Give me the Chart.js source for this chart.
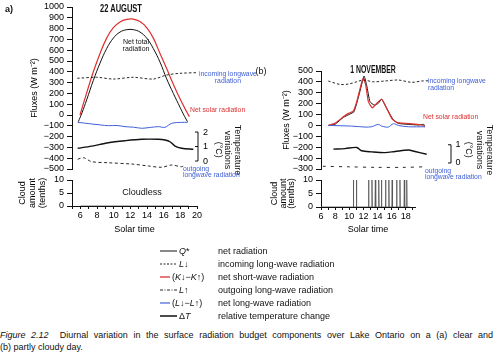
<!DOCTYPE html>
<html><head><meta charset="utf-8">
<script src="https://cdn.jsdelivr.net/npm/chart.js@4.4.1/dist/chart.umd.min.js"></script>
<style>
html,body{margin:0;padding:0;background:#fff;}
#wrap{position:relative;width:499px;height:356px;overflow:hidden;font-family:'Liberation Sans',Arial,Helvetica,sans-serif;color:#111;}
canvas{position:absolute;}
.t{position:absolute;white-space:nowrap;line-height:1;}
.vt{position:absolute;writing-mode:vertical-rl;text-align:center;white-space:nowrap;transform:translate(-50%,-50%);}
</style></head><body><div id="wrap">
<canvas id="fa" width="250" height="176" style="left:0;top:0"></canvas>
<canvas id="ca" width="250" height="70" style="left:0;top:170px"></canvas>
<canvas id="fb" width="249" height="116" style="left:250px;top:60px"></canvas>
<canvas id="cb" width="249" height="70" style="left:250px;top:170px"></canvas>
</div>
<script>
// ===== Panel (a): 22 August =====
const hoursNetTotalA = [5.76, 6.2, 6.76, 7.56, 8.36, 9.16, 9.96, 10.76, 11.56, 12.36, 13.16, 13.96, 14.76, 15.56, 16.36, 17.16, 17.96, 18.5, 18.86];
const netTotalA      = [-62, 20, 140, 320, 480, 615, 712, 768, 790, 790, 768, 712, 615, 490, 335, 200, 72, -12, -62];
const hoursNetSolarA = [5.96, 6.76, 7.56, 8.36, 9.16, 9.96, 10.76, 11.56, 12.36, 13.16, 13.96, 14.76, 15.56, 16.36, 17.16, 17.96, 18.76, 19.08];
const netSolarA      = [0, 205, 400, 570, 712, 808, 862, 885, 888, 865, 808, 712, 570, 430, 285, 150, 30, -15];
const hoursNetLongA  = [5.68, 6.5, 7.36, 8.4, 9.36, 10.4, 11.36, 12.4, 13.36, 14.4, 15.36, 16.16, 16.96, 18.16, 18.88];
const netLongA       = [-68, -75, -83, -92, -99, -97, -108, -113, -123, -115, -108, -114, -77, -68, -68];
const hoursInA       = [5.64, 7.96, 9.96, 12.36, 14.76, 16.36, 17.96, 19.96];
const incomingA      = [340, 349, 333, 349, 333, 370, 386, 392];
const hoursOutA      = [5.68, 6.36, 7.36, 9.32, 12.16, 14.16, 15.76, 16.96, 18.16, 18.6];
const outgoingA      = [-410, -395, -432, -442, -454, -472, -484, -463, -479, -460];
const hoursTempA     = [5.68, 7.36, 9.36, 11.36, 13.36, 15.36, 16.16, 16.76, 17.36, 18.16, 19.56];
const tempA          = [0.88, 1.03, 1.26, 1.40, 1.50, 1.50, 1.45, 1.33, 1.03, 0.88, 0.81];
const hoursCloudA    = [6, 7, 8, 9, 10, 11, 12, 13, 14, 15, 16, 17, 18, 19];
const cloudA         = [0, 0, 0, 0, 0, 0, 0, 0, 0, 0, 0, 0, 0, 0];
const fluxLabelsA    = ['−500','−400','−300','−200','−100','0','100','200','300','400','500','600','700','800','900','1000'];
const timeLabelsA    = [6, 8, 10, 12, 14, 16, 18, 20];
const tempTicksA     = [0, 1, 2];

// ===== Panel (b): 1 November =====
const hoursNetSolarB = [6.70, 7.44, 8.37, 8.93, 9.48, 9.86, 10.33, 10.59, 10.86, 11.15, 11.59, 12.07, 12.63, 13.19, 13.74, 14.30, 15.22, 16.33, 17.07, 17.44];
const netSolarB      = [0, 19, 80, 111, 132, 218, 371, 438, 371, 218, 162, 203, 240, 157, 65, 28, 19, 13, 4, -12];
const hoursNetTotalB = [6.70, 7.44, 8.37, 9.11, 9.56, 10.11, 10.67, 10.96, 11.33, 11.81, 12.26, 12.63, 13.19, 13.93, 14.48, 15.59, 16.70, 17.26, 17.44];
const netTotalB      = [0, 10, 74, 105, 126, 279, 453, 371, 218, 187, 203, 242, 157, 50, 19, 10, 4, 10, 0];
const hoursNetLongB  = [6.70, 9.30, 10.78, 11.52, 12.26, 12.63, 13.37, 13.93, 14.48, 15.59, 17.44];
const netLongB       = [0, -6, -15, -12, 10, -6, -15, 16, 0, -12, -12];
const hoursInB       = [6.70, 8.0, 8.93, 9.86, 10.59, 11.70, 12.96, 14.48, 15.96, 17.07, 17.81];
const incomingB      = [408, 377, 380, 401, 417, 401, 408, 417, 396, 408, 410];
const hoursOutB      = [6.1, 9.0, 12.0, 15.0, 17.4];
const outgoingB      = [-375, -380, -385, -385, -380];
const hoursTempB     = [7.26, 8.56, 9.86, 10.41, 11.52, 13.0, 14.11, 15.59, 16.33, 17.63];
const tempB          = [0.76, 0.79, 0.85, 0.67, 0.61, 0.57, 0.63, 0.71, 0.63, 0.48];
const cloudEventsB   = [10.58, 11.01, 12.73, 13.21, 13.69, 14.17, 14.55, 15.13, 15.6, 16.07, 16.7, 17.17, 17.79, 18.13];
const cloudFullB     = 10;
const fluxLabelsB    = ['−300','−400','−200','−100','0','100','200','300','400','500'];
const timeLabelsB    = [6, 8, 10, 12, 14, 16, 18];
const tempTicksB     = [0, 1];

// ===== Legend =====
const legendSymbols = ['<i>Q</i>*', '<i>L</i>↓', '(<i>K</i>↓−<i>K</i>↑)', '<i>L</i>↑', '(<i>L</i>↓−<i>L</i>↑)', 'Δ<i>T</i>'];
const legendTexts   = ['net radiation', 'incoming long-wave radiation', 'net short-wave radiation', 'outgoing long-wave radiation', 'net long-wave radiation', 'relative temperature change'];

const BLACK = '#111', RED = '#dc3030', BLUE = '#4060d8';
Chart.defaults.font.family = "'Liberation Sans', Arial, Helvetica, sans-serif";
Chart.defaults.color = '#000';

function pts(xs, ys){ return xs.map((x,i)=>({x:x, y:ys[i]})); }
function fixW(w){ return s => { s.width = w; s.paddingTop = 0; s.paddingBottom = 0; s.paddingLeft = 0; s.paddingRight = 0; }; }
function fixH(h){ return s => { s.height = h; s.paddingTop = 0; s.paddingBottom = 0; s.paddingLeft = 0; s.paddingRight = 0; }; }

const bracketPlugin = {
  id: 'bracket',
  afterDraw(chart, args, opts) {
    const s = chart.scales.yT, ctx = chart.ctx, x = opts.x, v = opts.ticks;
    const yA = s.getPixelForValue(v[0]), yB = s.getPixelForValue(v[v.length-1]);
    ctx.save(); ctx.strokeStyle = BLACK; ctx.lineWidth = 1;
    ctx.beginPath(); ctx.moveTo(x, yA); ctx.lineTo(x, yB);
    v.forEach(t => { const y = s.getPixelForValue(t); ctx.moveTo(x, y); ctx.lineTo(x - 3, y); });
    ctx.stroke(); ctx.restore();
  }
};

function fluxChart(id, cfg) {
  return new Chart(document.getElementById(id), {
    type: 'line',
    data: { datasets: [
      { data: pts(cfg.hIn, cfg.inc), borderColor: BLACK, borderWidth: 0.9, borderDash: [2.5, 2], tension: 0.3 },
      { data: pts(cfg.hOut, cfg.out), borderColor: BLACK, borderWidth: 0.9, borderDash: cfg.outDash, tension: 0.3 },
      { data: pts(cfg.hLong, cfg.lng), borderColor: BLUE, borderWidth: 1, tension: 0.3 },
      { data: pts(cfg.hSol, cfg.sol), borderColor: RED, borderWidth: 1.2, tension: cfg.tension },
      { data: pts(cfg.hTot, cfg.tot), borderColor: BLACK, borderWidth: 1, tension: cfg.tension },
      { data: pts(cfg.hT, cfg.temp), borderColor: BLACK, borderWidth: 1.4, tension: 0.3, yAxisID: 'yT' }
    ]},
    options: {
      responsive: false, animation: false, devicePixelRatio: 1,
      layout: { padding: cfg.pad },
      elements: { point: { radius: 0 } },
      plugins: { legend: { display: false }, tooltip: { enabled: false }, bracket: { x: cfg.bx, ticks: cfg.tt } },
      scales: {
        x: { type: 'linear', min: cfg.xmin, max: cfg.xmax, display: false },
        y: { type: 'linear', position: 'left', min: cfg.ymin, max: cfg.ymax,
             ticks: { stepSize: 100, autoSkip: false, padding: 3, font: { size: 9, lineHeight: 1 }, callback: (v, i) => cfg.labels[i] },
             grid: { drawOnChartArea: false, drawTicks: true, tickLength: 5, color: BLACK },
             border: { color: BLACK, width: 1 },
             title: { display: true, text: 'Fluxes (W m⁻²)', font: { size: 9 }, padding: { top: cfg.titlePad, bottom: 0 } },
             afterFit: fixW(cfg.yw) },
        yT: { type: 'linear', position: 'right', min: cfg.tmin, max: cfg.tmax,
             afterBuildTicks: s => { s.ticks = cfg.tt.map(v => ({ value: v })); },
             ticks: { padding: cfg.tpad, autoSkip: false, font: { size: 9, lineHeight: 1 }, callback: v => String(v) },
             grid: { display: false, drawTicks: false }, border: { display: false },
             afterFit: fixW(cfg.tw) }
      }
    },
    plugins: [bracketPlugin]
  });
}

function cloudChart(id, cfg) {
  return new Chart(document.getElementById(id), {
    type: 'line',
    data: { datasets: [ { data: cfg.data, borderColor: '#555', borderWidth: 0.8, tension: 0 } ] },
    options: {
      responsive: false, animation: false, devicePixelRatio: 1,
      layout: { padding: cfg.pad },
      elements: { point: { radius: 0 } },
      plugins: { legend: { display: false }, tooltip: { enabled: false } },
      scales: {
        x: { type: 'linear', position: 'bottom', min: cfg.xmin, max: cfg.xmax,
             ticks: { stepSize: 1, autoSkip: false, maxRotation: 0, minRotation: 0, includeBounds: false, padding: 2,
                      font: { size: 9, lineHeight: 1 }, callback: v => cfg.labels.includes(v) ? String(v) : '' },
             grid: { drawOnChartArea: false, tickLength: 3, color: BLACK },
             border: { color: BLACK },
             title: { display: true, text: 'Solar time', font: { size: 9 }, padding: { top: 0, bottom: cfg.xtPad } },
             afterFit: fixH(cfg.xh) },
        y: { type: 'linear', min: 0, max: 10,
             ticks: { stepSize: 5, autoSkip: false, padding: 3, font: { size: 9, lineHeight: 1 } },
             grid: { drawOnChartArea: false, tickLength: 5, color: BLACK },
             border: { color: BLACK },
             title: { display: true, text: ['Cloud', 'amount', '(tenths)'], font: { size: 9, lineHeight: cfg.lh }, padding: { top: cfg.ytPad, bottom: 0 } },
             afterFit: fixW(cfg.yw) }
      }
    }
  });
}

fluxChart('fa', {
  hIn: hoursInA, inc: incomingA, hOut: hoursOutA, out: outgoingA, outDash: [3, 2.5],
  hLong: hoursNetLongA, lng: netLongA, hSol: hoursNetSolarA, sol: netSolarA, hTot: hoursNetTotalA, tot: netTotalA,
  hT: hoursTempA, temp: tempA, tension: 0.4,
  pad: { left: 0, right: 0, top: 7, bottom: 7 }, xmin: 5, xmax: 20, ymin: -500, ymax: 1000, labels: fluxLabelsA,
  yw: 72, titlePad: 29.6, tmin: -0.55, tmax: 10.62, tt: tempTicksA, tpad: 6, tw: 53, bx: 198
});
fluxChart('fb', {
  hIn: hoursInB, inc: incomingB, hOut: hoursOutB, out: outgoingB, outDash: [3, 5],
  hLong: hoursNetLongB, lng: netLongB, hSol: hoursNetSolarB, sol: netSolarB, hTot: hoursNetTotalB, tot: netTotalB,
  hT: hoursTempB, temp: tempB, tension: 0.15,
  pad: { left: 0, right: 0, top: 11, bottom: 7 }, xmin: 5.89, xmax: 18, ymin: -400, ymax: 500, labels: fluxLabelsB,
  yw: 71, titlePad: 31.3, tmin: -0.333, tmax: 5.056, tt: tempTicksB, tpad: 25.5, tw: 69, bx: 201
});

cloudChart('ca', {
  data: pts(hoursCloudA, cloudA), pad: { left: 0, right: 53, top: 10, bottom: 0 }, xmin: 5, xmax: 20, labels: timeLabelsA,
  xh: 34, xtPad: 5, yw: 72, lh: '10px', ytPad: 18
});
const spikes = [{ x: 6, y: 0 }];
cloudEventsB.forEach(t => { spikes.push({ x: t - 0.05, y: 0 }, { x: t, y: cloudFullB }, { x: t + 0.05, y: 0 }); });
spikes.push({ x: 18.6, y: 0 });
cloudChart('cb', {
  data: spikes, pad: { left: 0, right: 84, top: 10, bottom: 0 }, xmin: 6, xmax: 19.3, labels: timeLabelsB,
  xh: 33, xtPad: 4.6, yw: 71, lh: '8.5px', ytPad: 20.7
});

// ===== Text overlays =====
const wrap = document.getElementById('wrap');
function txt(s, x, y, o) {
  o = o || {};
  const d = document.createElement('div');
  d.className = 't'; d.innerHTML = s;
  d.style.fontSize = (o.size || 9) + 'px';
  d.style.color = o.color || '#111';
  if (o.weight) d.style.fontWeight = o.weight;
  if (o.lh) d.style.lineHeight = o.lh + 'px';
  d.style.textAlign = o.ta || 'center';
  d.style.left = x + 'px'; d.style.top = y + 'px';
  d.style.transform = (o.align === 'l' ? 'translate(0,-50%)' : 'translate(-50%,-50%)') + (o.sx ? ' scaleX(' + o.sx + ')' : '');
  wrap.appendChild(d);
  return d;
}
function vtxt(s, x, y, size, lh) {
  const d = document.createElement('div');
  d.className = 'vt'; d.innerHTML = s;
  d.style.fontSize = size + 'px'; d.style.lineHeight = lh + 'px';
  d.style.left = x + 'px'; d.style.top = y + 'px';
  wrap.appendChild(d);
}
// (a)
txt('a)', 9, 9, { size: 9, weight: 'bold' });
txt('22 AUGUST', 121, 9, { size: 10, weight: 'bold', sx: 0.75 });
txt('Net total<br>radiation', 136, 44.5, { size: 7, lh: 7 });
txt('incoming longwave<br>radiation', 199, 77, { size: 6.8, lh: 6.5, color: BLUE, align: 'l' });
txt('Net solar radiation', 190, 110, { size: 6.8, color: RED, align: 'l' });
txt('outgoing<br>longwave radiation', 183, 171.5, { size: 6.8, lh: 6, color: BLUE, align: 'l', ta: 'left' });
txt('Cloudless', 142, 192, { size: 9 });
vtxt('Temperature<br>variations<br>(°C)', 227.5, 150, 9, 9.5);
// (b)
txt('(b)', 261, 71, { size: 9 });
txt('1 NOVEMBER', 373, 70, { size: 10, weight: 'bold', sx: 0.69 });
txt('incoming longwave<br>radiation', 428, 84.3, { size: 6.8, lh: 6.5, color: BLUE, align: 'l', ta: 'left' });
txt('Net solar radiation', 423, 117, { size: 6.8, color: RED, align: 'l' });
txt('outgoing<br>longwave radiation', 425, 174, { size: 6.8, lh: 6, color: BLUE, align: 'l', ta: 'left' });
vtxt('Temperature<br>variations<br>(°C)', 479.5, 150, 9, 10.5);

// Legend
const legendStyles = [
  { w: 17, dash: '', color: BLACK, sw: 1 },
  { w: 17, dash: '2,1.5', color: BLACK, sw: 0.9 },
  { w: 10, dash: '', color: RED, sw: 1.3 },
  { w: 17, dash: '3,1.5,1,1.5', color: BLACK, sw: 0.9 },
  { w: 10, dash: '', color: BLUE, sw: 1.2 },
  { w: 17, dash: '', color: BLACK, sw: 1.5 }
];
legendSymbols.forEach((sym, i) => {
  const y = 251 + i * 13;
  const st = legendStyles[i];
  const svg = document.createElementNS('http://www.w3.org/2000/svg', 'svg');
  svg.setAttribute('width', st.w); svg.setAttribute('height', 4);
  svg.style.position = 'absolute'; svg.style.left = '160px'; svg.style.top = (y - 2) + 'px';
  const ln = document.createElementNS('http://www.w3.org/2000/svg', 'line');
  ln.setAttribute('x1', 0); ln.setAttribute('x2', st.w); ln.setAttribute('y1', 2); ln.setAttribute('y2', 2);
  ln.setAttribute('stroke', st.color); ln.setAttribute('stroke-width', st.sw);
  if (st.dash) ln.setAttribute('stroke-dasharray', st.dash);
  svg.appendChild(ln); wrap.appendChild(svg);
  txt(sym, 160 + st.w + 2, y, { size: 9, align: 'l' });
  txt(legendTexts[i], 218, y, { size: 9, align: 'l' });
});

// Caption
const cap = document.createElement('div');
cap.style.cssText = 'position:absolute;left:0;top:330px;width:493px;font-size:9px;line-height:10px;text-align:justify;text-align-last:justify;white-space:nowrap;';
cap.innerHTML = '<i>Figure 2.12</i>&nbsp; Diurnal variation in the surface radiation budget components over Lake Ontario on a (a) clear and';
wrap.appendChild(cap);
const cap2 = document.createElement('div');
cap2.style.cssText = 'position:absolute;left:0;top:341.5px;font-size:9px;line-height:10px;white-space:nowrap;';
cap2.textContent = '(b) partly cloudy day.';
wrap.appendChild(cap2);
</script>
</body></html>
